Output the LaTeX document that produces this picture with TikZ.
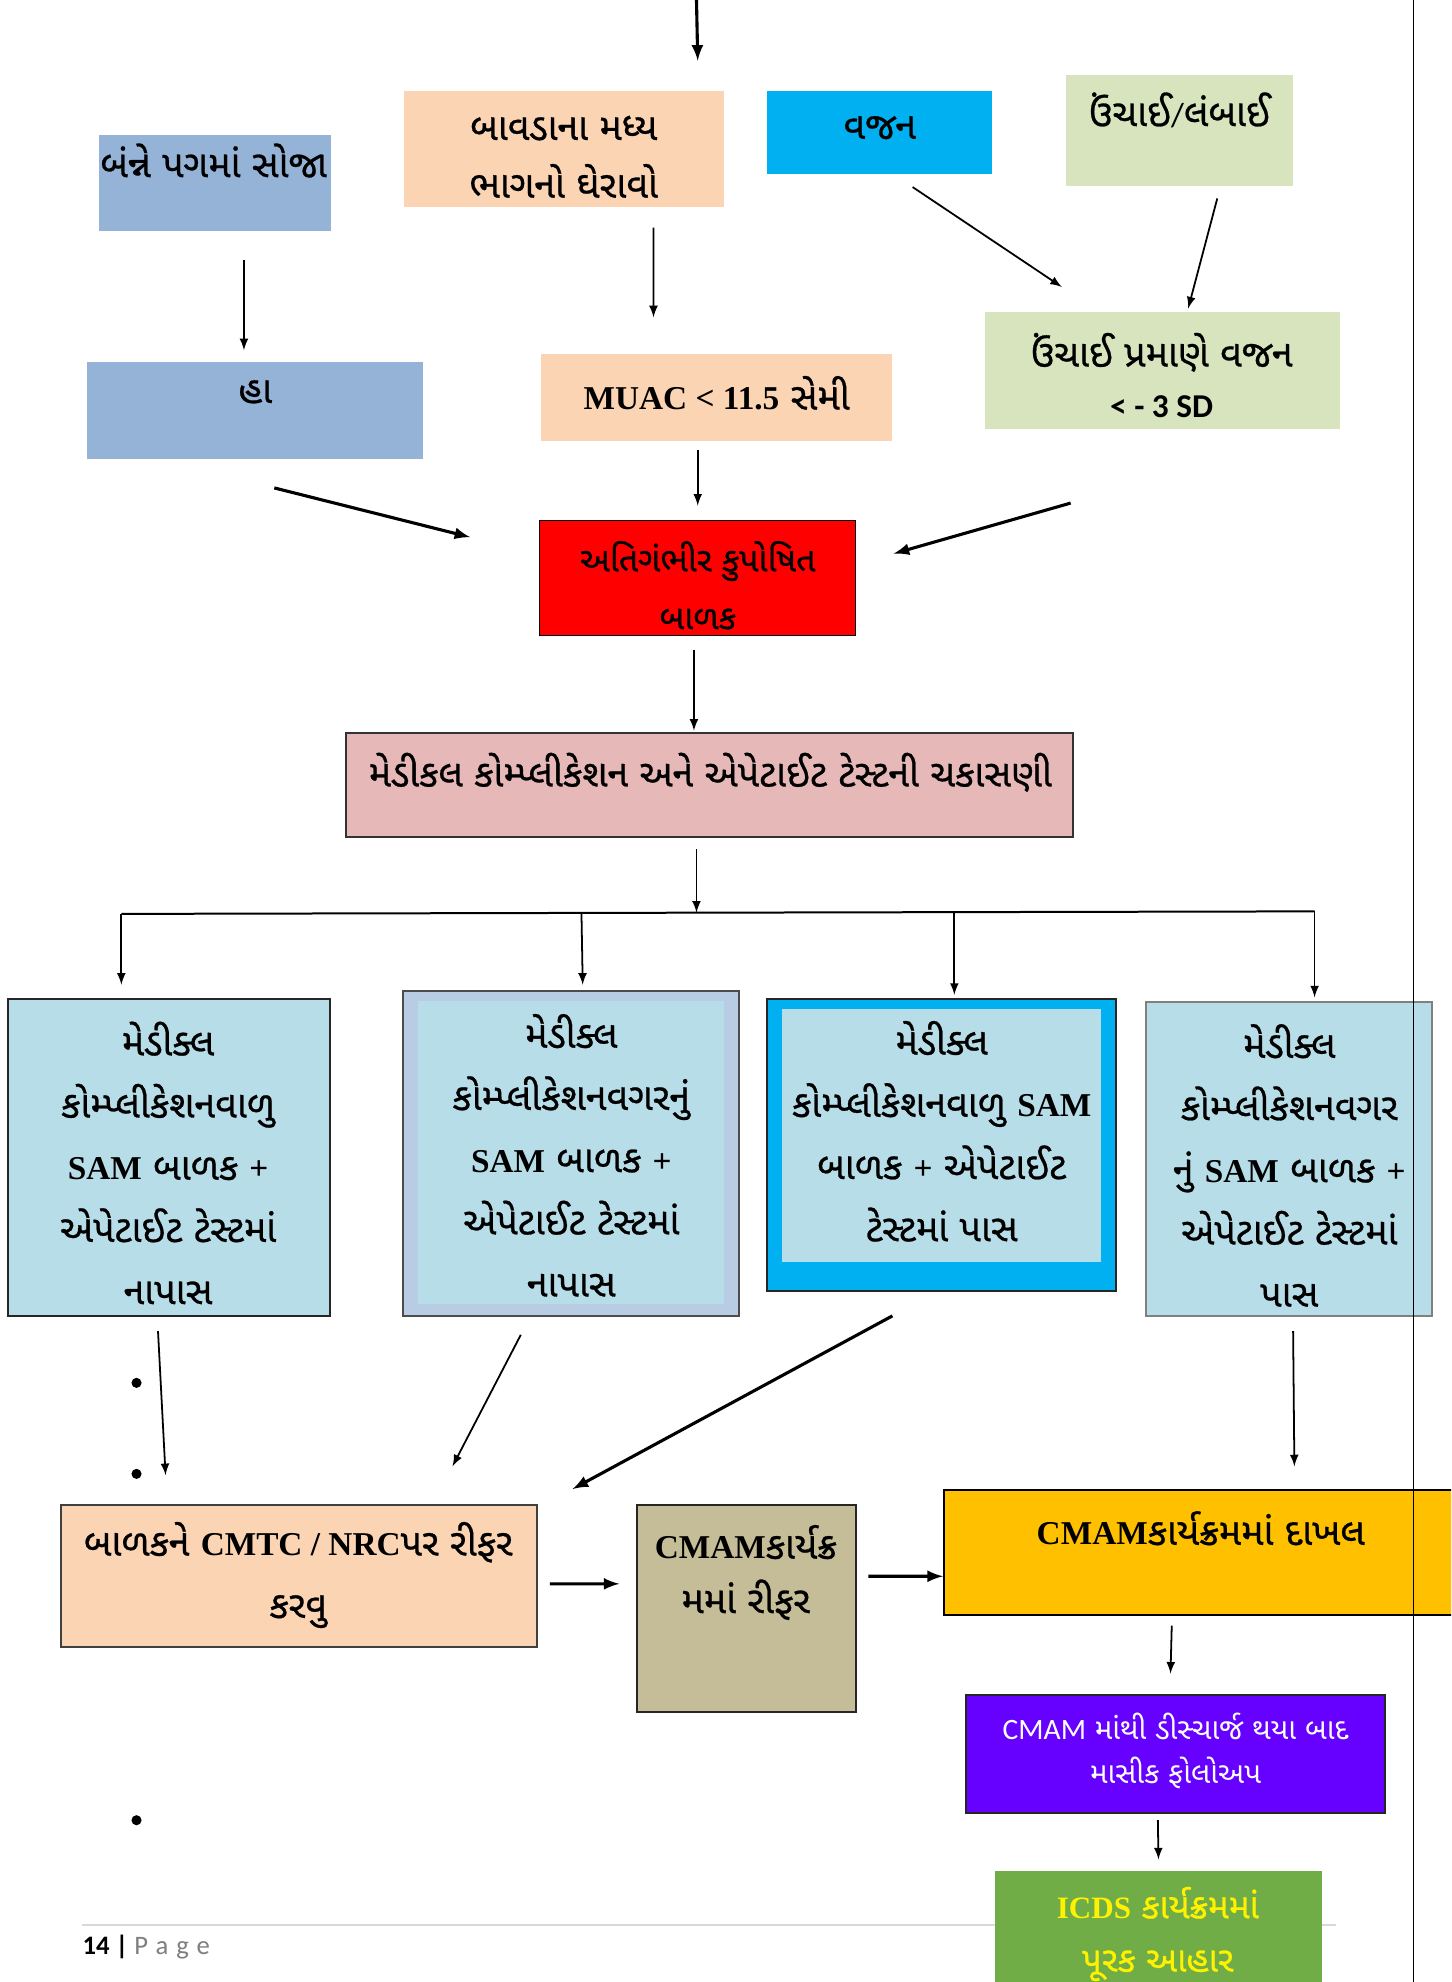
\documentclass[tikz,border=0pt]{standalone}
\usepackage{fontspec}
\setmainfont{Liberation Serif}
\newfontfamily\guj[Script=Gujarati, Scale=1.13, FakeBold=0.7]{Noto Sans Gujarati UI}
\newfontfamily\gujlight[Script=Gujarati]{Noto Sans Gujarati UI}
\newfontfamily\calfont{Carlito}
\usepackage{tikz}
\usetikzlibrary{arrows,positioning,fit,calc}
\usepackage{xcolor}
\definecolor{gblue}{RGB}{149,179,215}
\definecolor{gpeach}{RGB}{251,212,180}
\definecolor{gsky}{RGB}{0,176,240}
\definecolor{glgreen}{RGB}{215,228,189}
\definecolor{gpink}{RGB}{230,185,184}
\definecolor{gcyan}{RGB}{183,222,232}
\definecolor{glav}{RGB}{184,204,228}
\definecolor{gtan}{RGB}{196,189,151}
\definecolor{gyellow}{RGB}{255,192,0}
\definecolor{gpurple}{RGB}{102,0,255}
\definecolor{ggreen}{RGB}{112,173,71}
\definecolor{pagegray}{RGB}{127,127,127}
\newcommand{\lat}[1]{{\rmfamily\bfseries #1}}
\tikzstyle{arrow} = [->,>=latex,line width=0.8pt]
\tikzstyle{heavy} = [->,>=latex,line width=1.4pt]
\tikzstyle{box} = [rectangle, inner sep=0pt, outer sep=0pt]
\tikzstyle{gtext} = [align=center, inner sep=0pt, font=\guj\fontsize{15}{28}\selectfont]

\begin{document}
\begin{tikzpicture}[x=0.2mm, y=-0.2mm]
\clip (0,0) rectangle (1148,1568);
\fill[white] (0,0) rectangle (1148,1568);

% First row
\node (soja) [box, fill=gblue, fit={(78,107) (262,183)}] {};
\node (soja-t) [gtext] at (169,127) {બંન્ને પગમાં સોજા};
\node (bavda) [box, fill=gpeach, fit={(320,72) (573,164)}] {};
\node (bavda-t) [gtext, font=\guj\fontsize{15}{26}\selectfont] at (446,124) {બાવડાના મધ્ય\\ભાગનો ઘેરાવો};
\node (vajan) [box, fill=gsky, fit={(607,72) (785,138)}] {};
\node (vajan-t) [gtext] at (696,101) {વજન};
\node (unchai) [box, fill=glgreen, fit={(843,59) (1023,147)}] {};
\node (unchai-t) [gtext] at (933,87) {ઉંચાઈ{\calfont /}લંબાઈ};

% Second row
\node (ha) [box, fill=gblue, fit={(69,286) (335,363)}] {};
\node (ha-t) [gtext] at (202,310) {હા};
\node (muac) [box, fill=gpeach, fit={(428,280) (706,349)}] {};
\node (muac-t) [gtext] at (567,311) {\lat{MUAC < 11.5} સેમી};
\node (pramane) [box, fill=glgreen, fit={(779,247) (1060,339)}] {};
\node (pramane-t) [gtext, font=\guj\fontsize{15}{23}\selectfont] at (919,297) {ઉંચાઈ પ્રમાણે વજન\\{\calfont\bfseries < - 3 SD}};

% SAM child and check
\node (sam) [box, fill=red, draw=black, thin, fit={(427,412) (677,503)}] {};
\node (sam-t) [gtext, font=\guj\fontsize{13.5}{26}\selectfont] at (552,463) {અતિગંભીર કુપોષિત\\બાળક};
\node (check) [box, fill=gpink, draw=black!80, line width=1pt, fit={(274,580) (849,662)}] {};
\node (check-t) [gtext] at (562,611) {મેડીકલ કોમ્પ્લીકેશન અને એપેટાઈટ ટેસ્ટની ચકાસણી};

% Four outcomes
\node (b1) [box, fill=gcyan, draw=black!85, line width=0.9pt, fit={(6,790) (261,1041)}] {};
\node (b1-t) [gtext] at (133,920) {મેડીક્લ\\કોમ્પ્લીકેશનવાળુ\\\lat{SAM} બાળક \lat{+}\\એપેટાઈટ ટેસ્ટમાં\\નાપાસ};
\node (b2) [box, fill=glav, draw=black!70, line width=0.9pt, fit={(319,784) (585,1041)}] {};
\node (b2-in) [box, fill=gcyan, fit={(331,792) (573,1032)}] {};
\node (b2-t) [gtext] at (452,914) {મેડીક્લ\\કોમ્પ્લીકેશનવગરનું\\\lat{SAM} બાળક \lat{+}\\એપેટાઈટ ટેસ્ટમાં\\નાપાસ};
\node (b3) [box, fill=gsky, draw=black!85, line width=0.9pt, fit={(607,790) (883,1021)}] {};
\node (b3-in) [box, fill=gcyan, fit={(619,798) (871,998)}] {};
\node (b3-t) [gtext] at (745,895) {મેડીક્લ\\કોમ્પ્લીકેશનવાળુ \lat{SAM}\\બાળક \lat{+} એપેટાઈટ\\ટેસ્ટમાં પાસ};
\node (b4) [box, fill=gcyan, draw=black!50, line width=0.9pt, fit={(907,793) (1133,1041)}] {};
\node (b4-t) [gtext] at (1020,922) {મેડીક્લ\\કોમ્પ્લીકેશનવગર\\નું \lat{SAM} બાળક \lat{+}\\એપેટાઈટ ટેસ્ટમાં\\પાસ};

% Referral row
\node (cmtc) [box, fill=gpeach, draw=black!75, line width=0.9pt, fit={(48,1191) (425,1303)}] {};
\node (cmtc-t) [gtext] at (236,1246) {બાળકને \lat{CMTC / NRC}પર રીફર\\કરવુ};
\node (refer) [box, fill=gtan, draw=black!85, line width=0.9pt, fit={(504,1191) (677,1354)}] {};
\node (refer-t) [gtext, font=\guj\fontsize{15}{24.5}\selectfont] at (590,1244) {\lat{CMAM}કાર્યક્ર\\મમાં રીફર};
\node (admit) [box, fill=gyellow, draw=black, line width=0.9pt, fit={(747,1179) (1150,1278)}] {};
\node (admit-t) [gtext] at (950,1209) {\lat{CMAM}કાર્યક્રમમાં દાખલ};

% Footer line
\draw[black!15, line width=1pt] (65,1523) -- (1057,1523);

% Follow up
\node (follow) [box, fill=gpurple, draw=black!85, line width=0.9pt, fit={(764,1341) (1096,1434)}] {};
\node (follow-t) [gtext, text=white, font=\gujlight\fontsize{13.3}{20}\selectfont] at (930,1385) {{\calfont CMAM} માંથી ડીસ્ચાર્જ થયા બાદ\\માસીક ફોલોઅપ};
\node (icds) [box, fill=ggreen, fit={(787,1480) (1046,1580)}] {};
\node (icds-t) [gtext, text=yellow, font=\guj\fontsize{14}{24}\selectfont] at (916,1530) {\lat{ICDS} કાર્યક્રમમાં\\પૂરક આહાર};

% Arrows, top part
\coordinate (in0) at (551,0);
\coordinate (in1) at (552,48);
\draw[heavy] (in0) -- (in1);
\draw[arrow] ($(soja.south)+(23,23)$) -- ($(ha.north)+(-9,-9)$);
\draw[arrow] ($(bavda.south)+(70.5,16)$) -- ($(muac.north)+(-50,-29)$);
\draw[arrow] ($(vajan.south)+(26,10)$) -- ($(pramane.north)+(-79.5,-20)$);
\draw[arrow] ($(unchai.south)+(30,10)$) -- ($(pramane.north)+(20.5,-3)$);
\draw[arrow] ($(muac.south)+(-15,7)$) -- ($(sam.north)+(0,-12)$);
\draw[heavy] ($(ha.south)+(15,23)$) -- ($(sam.west)+(-55,-32.5)$);
\draw[heavy] ($(pramane.south)+(-72.5,59)$) -- ($(sam.east)+(30,-19.5)$);
\draw[arrow] ($(sam.south)+(-3,11)$) -- ($(check.north)+(-12.5,-2)$);

% Branches
\coordinate (busl) at (96,723);
\coordinate (bus2) at (460,722);
\coordinate (busm) at (551,722);
\coordinate (bus3) at (755,722);
\coordinate (busr) at (1040,721);
\draw[arrow] ($(check.south)+(-10.5,10)$) -- (busm);
\draw[line width=0.9pt] (busl) -- (busr);
\draw[arrow] (busl) -- ($(b1.north)+(-37.5,-11)$);
\draw[arrow] (bus2) -- ($(b2.north)+(9,-5)$);
\draw[arrow] (bus3) -- ($(b3.north)+(10,-3)$);
\draw[arrow] (busr) -- ($(b4.north)+(20,-4)$);

% Arrows, bottom part
\draw[arrow] ($(b1.south)+(-8.5,12)$) -- ($(cmtc.north)+(-105.5,-24)$);
\draw[arrow] ($(b2.south)+(-40,15)$) -- ($(cmtc.north)+(121.5,-31)$);
\draw[heavy] ($(b3.south)+(-39,20)$) -- ($(cmtc.north east)+(28,-13)$);
\draw[arrow] ($(b4.south)+(3,12)$) -- ($(admit.north)+(75.5,-19)$);
\draw[heavy] ($(cmtc.east)+(10,6)$) -- ($(refer.west)+(-14,-19.5)$);
\draw[heavy] ($(refer.east)+(10,-25.5)$) -- ($(admit.west)+(-1,18.5)$);
\draw[arrow] ($(admit.south)+(-21.5,8)$) -- ($(follow.north)+(-4,-17)$);
\draw[arrow] ($(follow.south)+(-14,6)$) -- ($(icds.north)+(0,-9)$);

% Stray bullets
\foreach \y in {1094,1166,1440}
  \fill[black] (108,\y) circle (0.8mm);

% Page footer and margin
\node (page) [anchor=west, inner sep=0pt, font=\calfont\fontsize{12}{14}\selectfont] at (65,1540) {\textbf{14 |} \textcolor{pagegray}{\addfontfeature{LetterSpace=30}Page}};
\draw[line width=0.6pt] (1118,0) -- (1118,1568);
\end{tikzpicture}
\end{document}
